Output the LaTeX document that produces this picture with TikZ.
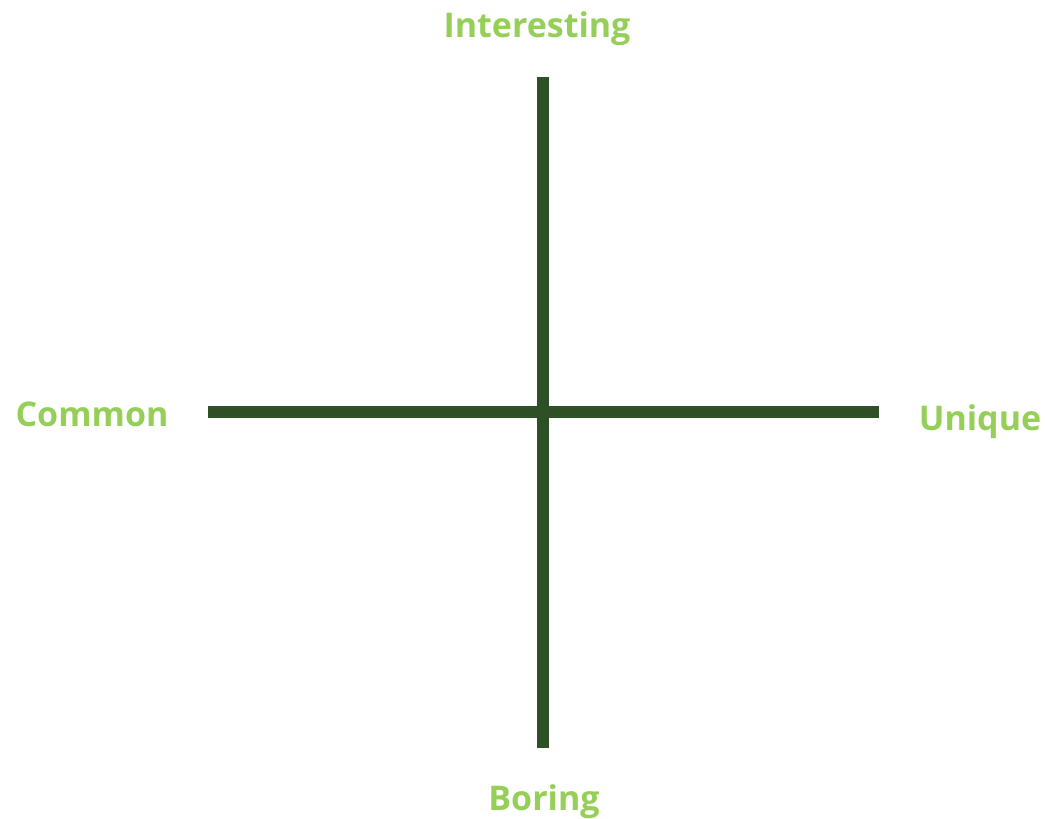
\documentclass[tikz,border=0pt]{standalone}
\usepackage{fontspec}
\setmainfont{Open Sans}[UprightFont=* Bold]
\definecolor{axisgreen}{HTML}{2D5027}
\definecolor{labelgreen}{HTML}{95CF58}
\begin{document}
\begin{tikzpicture}[x=1pt,y=-1pt,
  axis/.style={draw=axisgreen,line width=12pt},
  lbl/.style={text=labelgreen,font=\fontsize{34}{40}\selectfont,inner sep=0pt,anchor=center}]
\useasboundingbox (0,0) rectangle (1045,819);
\coordinate (top) at (543,77);
\coordinate (bot) at (543,748);
\coordinate (left) at (208,412);
\coordinate (right) at (879,412);
\draw[axis] (top) -- (bot);
\draw[axis] (left) -- (right);
\node[lbl] (interesting) at (537,29) {Interesting};
\node[lbl] (common) at (92,414) {Common};
\node[lbl] (unique) at (980,422) {Unique};
\node[lbl] (boring) at (544,802) {Boring};
\end{tikzpicture}
\end{document}
